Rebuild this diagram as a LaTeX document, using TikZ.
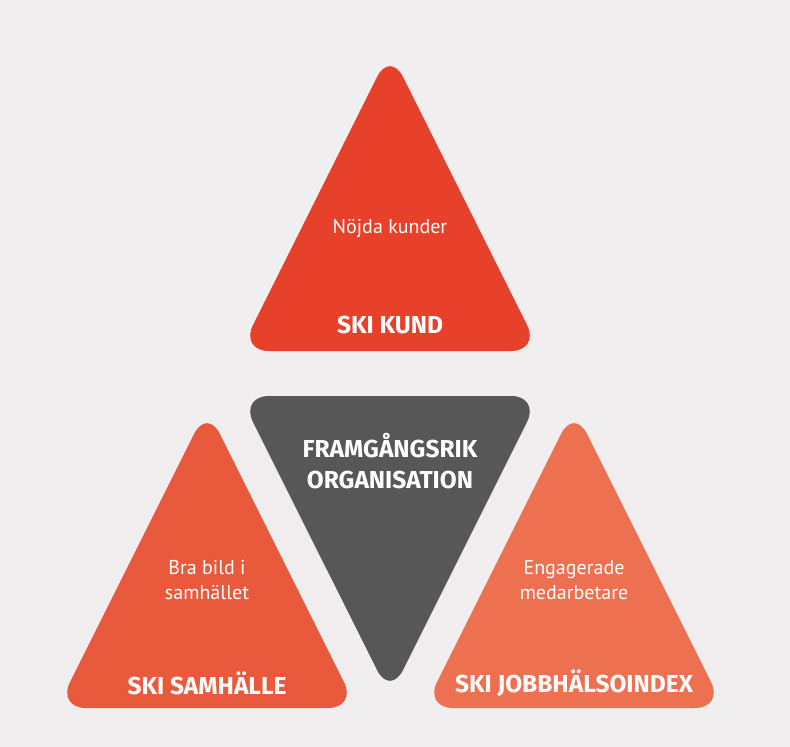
\documentclass[tikz,border=0pt]{standalone}
\usepackage{fontspec}
\setmainfont{PT Sans}
\newfontfamily\titlefont{Fira Sans}
\definecolor{bgc}{RGB}{240,238,238}
\definecolor{kund}{RGB}{232,65,43}
\definecolor{samh}{RGB}{233,90,60}
\definecolor{jobb}{RGB}{237,112,80}
\definecolor{org}{RGB}{87,87,87}
\tikzset{
  tri/.style={rounded corners=29pt},
  ttl/.style={text=white,font=\titlefont\bfseries\fontsize{24.5}{31}\selectfont,align=center},
  body/.style={text=white,font=\fontsize{20}{25}\selectfont,align=center},
}
\begin{document}
\begin{tikzpicture}[x=1pt,y=-1pt]
\fill[bgc] (0,0) rectangle (790,747);
\useasboundingbox (0,0) rectangle (790,747);
% top triangle
\fill[kund,tri] (240,351) -- (390,51) -- (540,351) -- cycle;
% inverted
\fill[org,tri] (240,396) -- (540,396) -- (390,696) -- cycle;
% left
\fill[samh,tri] (57,708) -- (207,408) -- (357,708) -- cycle;
% right
\fill[jobb,tri] (424,708) -- (574,408) -- (724,708) -- cycle;
\node[body] (kb) at (390,229) {Nöjda kunder};
\node[ttl] (kt) at (390,325) {SKI KUND};
\node[ttl] (ot) at (390,461) {FRAMGÅNGSRIK\\ORGANISATION};
\node[body] (sb) at (207,580) {Bra bild i\\samhället};
\node[ttl] (st) at (207,683) {SKI SAMHÄLLE};
\node[body] (jb) at (574,580) {Engagerade\\medarbetare};
\node[ttl] (jt) at (574,683) {SKI JOBBHÄLSOINDEX};
\end{tikzpicture}
\end{document}
